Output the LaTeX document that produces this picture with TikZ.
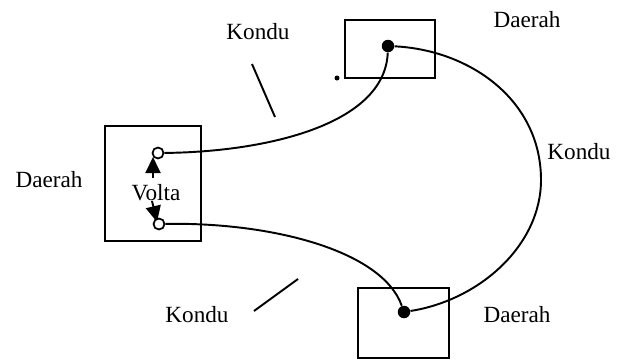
\documentclass[tikz,border=0pt]{standalone}
\usepackage{fontspec}
\setmainfont{Liberation Serif}
\usetikzlibrary{arrows.meta}

\tikzset{
    wire/.style={line width=1.1pt},
    region/.style={draw, line width=1.1pt, minimum width=#1, inner sep=0pt},
    openterm/.style={circle, draw, fill=white, line width=1pt, minimum size=0.22cm, inner sep=0pt},
    blackterm/.style={circle, fill=black, minimum size=0.25cm, inner sep=0pt},
    label/.style={font=\fontsize{13.2}{15}\selectfont, inner sep=0pt},
    polarity/.style={-{Triangle[length=0.32cm, width=0.3cm]}, line width=1.1pt}
}

\begin{document}
\begin{tikzpicture}[x=0.02cm, y=-0.02cm]
        \useasboundingbox (0,0) rectangle (619,362);

        \node[region=1.92cm, minimum height=2.3cm] (left) at (153,183.5) {};
        \node[region=1.8cm, minimum height=1.16cm] (top) at (390,49) {};
        \node[region=1.82cm, minimum height=1.4cm] (bottom) at (403.5,323) {};

        \coordinate (Ua) at (153,178);
        \coordinate (Ub) at (153,157);
        \coordinate (La) at (152,201);
        \coordinate (Lb) at (157,222);
        \coordinate (Pa) at (252,64);
        \coordinate (Pb) at (275,117);
        \coordinate (Qa) at (254,311);
        \coordinate (Qb) at (298,279);

        \draw[polarity] (Ua) -- (Ub);
        \draw[polarity] (La) -- (Lb);

        \node[openterm] (U) at (158,153) {};
        \node[openterm] (L) at (159,224) {};
        \node[blackterm] (T) at (388,46) {};
        \node[blackterm] (B) at (404,312) {};

        \draw[wire] (U) .. controls (265,152) and (385,125) .. (T);
        \draw[wire] (L) .. controls (270,222) and (382,250) .. (B);
        \draw[wire] (T) .. controls (470,50) and (541,100) .. (541,180)
            .. controls (541,245) and (480,300) .. (B);

        \draw[wire] (Pa) -- (Pb);
        \draw[wire] (Qa) -- (Qb);

        \fill (337,78) circle (0.05cm);

        \node[label] (k1) at (258,32) {Kondu};
        \node[label] (k2) at (579,152) {Kondu};
        \node[label] (k3) at (197,315) {Kondu};
        \node[label] (d1) at (527,20) {Daerah};
        \node[label] (d2) at (49,180) {Daerah};
        \node[label] (d3) at (517,315) {Daerah};
        \node[label] (volta) at (156,193) {Volta};
    \end{tikzpicture}
\end{document}
